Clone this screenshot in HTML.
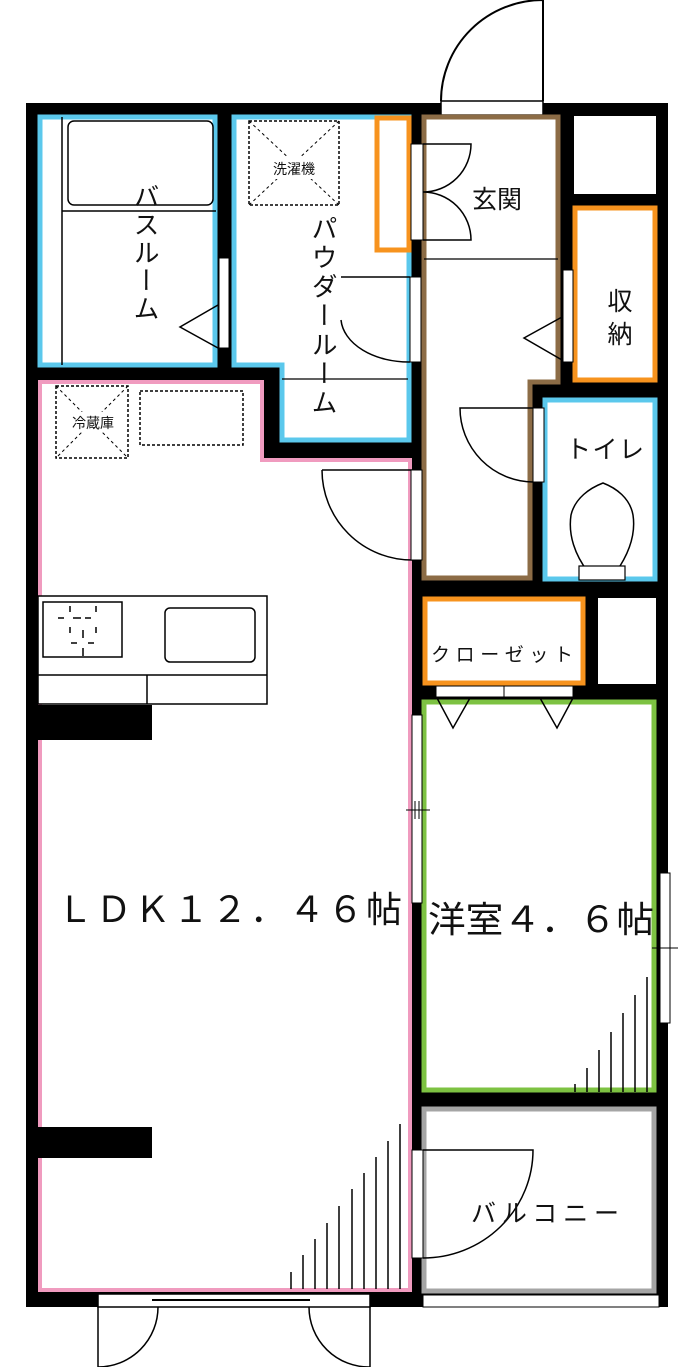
<!DOCTYPE html>
<html><head><meta charset="utf-8"><style>
html,body{margin:0;padding:0;background:#fff;}
body{position:relative;width:700px;height:1367px;overflow:hidden;}
svg{display:block;position:absolute;left:0;top:0;}
text{font-family:"Liberation Sans","Noto Sans CJK JP",sans-serif;fill:#111;}
.v{position:absolute;writing-mode:vertical-rl;font-family:"Noto Sans CJK JP",sans-serif;color:#111;line-height:1;white-space:nowrap;}
</style></head><body>
<svg width="700" height="1367" viewBox="0 0 700 1367" xmlns="http://www.w3.org/2000/svg">
<rect width="700" height="1367" fill="#fff"/>
<!-- outer walls -->
<rect x="26" y="103" width="642" height="13" fill="#000"/>
<rect x="26" y="103" width="13" height="1204" fill="#000"/>
<rect x="656" y="103" width="12" height="1204" fill="#000"/>
<rect x="26" y="1292" width="642" height="15" fill="#000"/>
<!-- top door -->
<rect x="441" y="101" width="102" height="14" fill="#fff" stroke="#000" stroke-width="1.5"/>
<path d="M441 101 A102 101 0 0 1 543 0 L543 101" fill="none" stroke="#000" stroke-width="2"/>
<!-- interior walls -->
<rect x="216" y="103" width="16" height="275" fill="#000"/>
<rect x="26" y="367" width="254" height="13" fill="#000"/>
<rect x="262" y="367" width="18" height="93" fill="#000"/>
<rect x="262" y="442" width="160" height="18" fill="#000"/>
<rect x="360" y="103" width="62" height="165" fill="#000"/>
<rect x="408" y="103" width="16" height="1204" fill="#000"/>
<rect x="558" y="103" width="16" height="290" fill="#000"/>
<rect x="528" y="380" width="16" height="218" fill="#000"/>
<rect x="528" y="382" width="140" height="16" fill="#000"/>
<rect x="560" y="193" width="108" height="14" fill="#000"/>
<rect x="408" y="580" width="260" height="18" fill="#000"/>
<rect x="585" y="580" width="13" height="130" fill="#000"/>
<rect x="408" y="684" width="260" height="16" fill="#000"/>
<rect x="595" y="684" width="73" height="28" fill="#000"/>
<rect x="408" y="1091" width="260" height="16" fill="#000"/>
<!-- room fills -->
<rect x="40" y="117" width="175" height="248" fill="#fff" stroke="#5bc8ec" stroke-width="5"/>
<path d="M234 117 H409 V440 H282 V365 H234 Z" fill="#fff" stroke="#5bc8ec" stroke-width="5"/>
<rect x="377" y="118" width="32" height="132" fill="#fff" stroke="#f7931e" stroke-width="5"/>
<path d="M424 117 H558 V382 H530 V578 H424 Z" fill="#fff" stroke="#8c6c46" stroke-width="5"/>
<rect x="574" y="116" width="82" height="78" fill="#fff"/>
<rect x="575" y="208" width="80" height="172" fill="#fff" stroke="#f7931e" stroke-width="5"/>
<rect x="545" y="400" width="110" height="179" fill="#fff" stroke="#5bc8ec" stroke-width="5"/>
<rect x="425" y="599" width="158" height="84" fill="#fff" stroke="#f7931e" stroke-width="5"/>
<rect x="599" y="599" width="57" height="85" fill="#fff"/>
<rect x="424" y="702" width="230" height="388" fill="#fff" stroke="#7dc242" stroke-width="5"/>
<rect x="424" y="1109" width="230" height="182" fill="#fff" stroke="#a5a5a5" stroke-width="5"/>
<path d="M40 382 H262 V460 H410 V1290 H40 Z" fill="#fff" stroke="#f09bbf" stroke-width="4"/>
<!-- bath details -->
<line x1="62" y1="117" x2="62" y2="365" stroke="#000" stroke-width="1.5"/>
<rect x="68" y="121" width="145" height="84" rx="6" fill="none" stroke="#000" stroke-width="1.5"/>
<line x1="62" y1="211" x2="216" y2="211" stroke="#000" stroke-width="1.5"/>
<rect x="219" y="258" width="10" height="90" fill="#fff" stroke="#000" stroke-width="1"/>
<path d="M218 305 L180 327 L218 348" fill="none" stroke="#000" stroke-width="1.5"/>
<!-- washer -->
<rect x="249" y="121" width="90" height="84" fill="none" stroke="#000" stroke-width="1.5" stroke-dasharray="3,2"/>
<path d="M249 121 L339 205 M339 121 L249 205" stroke="#000" stroke-width="1" stroke-dasharray="3,3"/>
<rect x="265" y="157" width="58" height="22" fill="#fff"/>
<text x="294" y="174" font-size="14" text-anchor="middle">洗濯機</text>
<!-- powder door -->
<line x1="341" y1="277" x2="410" y2="277" stroke="#000" stroke-width="1.5"/>
<path d="M341 320 A68 45 0 0 0 410 362" fill="none" stroke="#000" stroke-width="1.5"/>
<rect x="410" y="277" width="11" height="85" fill="#fff" stroke="#000" stroke-width="1"/>
<line x1="282" y1="379" x2="408" y2="379" stroke="#000" stroke-width="1.2"/>
<!-- entrance -->
<rect x="411" y="144" width="12" height="96" fill="#fff" stroke="#000" stroke-width="1"/>
<path d="M423 144 H471 A48 48 0 0 1 423 192 A48 48 0 0 1 471 240 H423" fill="none" stroke="#000" stroke-width="1.5"/>
<line x1="424" y1="259" x2="558" y2="259" stroke="#000" stroke-width="1.2"/>
<rect x="563" y="270" width="10" height="92" fill="#fff" stroke="#000" stroke-width="1"/>
<path d="M562 317 L524 338 L562 360" fill="none" stroke="#000" stroke-width="1.5"/>
<rect x="533" y="408" width="11" height="74" fill="#fff" stroke="#000" stroke-width="1"/>
<path d="M533 408 H460 A74 74 0 0 0 533 482" fill="none" stroke="#000" stroke-width="1.5"/>
<!-- toilet -->
<path d="M588 572 C575 555 568 535 571 515 C575 498 590 488 603 483 C616 488 630 498 633 515 C636 535 628 555 616 572" fill="none" stroke="#000" stroke-width="1.5"/>
<rect x="579" y="566" width="46" height="14" fill="#fff" stroke="#000" stroke-width="1.2"/>
<!-- fridge -->
<rect x="56" y="386" width="72" height="72" fill="none" stroke="#000" stroke-width="1.5" stroke-dasharray="3,2"/>
<path d="M56 386 L128 458 M128 386 L56 458" stroke="#000" stroke-width="1" stroke-dasharray="3,3"/>
<rect x="63" y="412" width="60" height="20" fill="#fff"/>
<text x="93" y="428" font-size="14" text-anchor="middle">冷蔵庫</text>
<rect x="140" y="391" width="103" height="54" fill="none" stroke="#000" stroke-width="1.5" stroke-dasharray="3,2"/>
<!-- LDK door -->
<path d="M322 470 H412 M322 470 A90 90 0 0 0 412 560" fill="none" stroke="#000" stroke-width="1.5"/>
<rect x="411" y="470" width="11" height="90" fill="#fff" stroke="#000" stroke-width="1"/>
<!-- kitchen -->
<rect x="38" y="596" width="229" height="108" fill="#fff" stroke="#000" stroke-width="1.5"/>
<line x1="38" y1="675" x2="267" y2="675" stroke="#000" stroke-width="1.5"/>
<line x1="147" y1="675" x2="147" y2="704" stroke="#000" stroke-width="1.5"/>
<rect x="43" y="602" width="79" height="55" fill="none" stroke="#000" stroke-width="1.5"/>
<path d="M58 618 h6 M73 618 h8 M85 618 h6 M70 606 v6 M96 606 v6 M70 627 v6 M96 627 v6 M83 630 v8 M71 643 h6 M88 643 h6 M83 648 v8" stroke="#000" stroke-width="1.5"/>
<rect x="165" y="608" width="90" height="54" rx="5" fill="none" stroke="#000" stroke-width="1.5"/>
<rect x="38" y="705" width="114" height="35" fill="#000"/>
<rect x="38" y="1127" width="114" height="31" fill="#000"/>
<!-- closet doors -->
<rect x="436" y="686" width="68" height="11" fill="#fff" stroke="#000" stroke-width="1"/>
<rect x="504" y="686" width="69" height="11" fill="#fff" stroke="#000" stroke-width="1"/>
<path d="M437 698 L453 728 L470 698 M540 698 L557 728 L573 698" fill="none" stroke="#000" stroke-width="1.5"/>
<!-- LDK/western sliding window -->
<rect x="412" y="715" width="10" height="188" fill="#fff" stroke="#000" stroke-width="1"/>
<line x1="406" y1="810" x2="430" y2="810" stroke="#000" stroke-width="1"/>
<line x1="415" y1="801" x2="415" y2="819" stroke="#000" stroke-width="1"/>
<line x1="419" y1="801" x2="419" y2="819" stroke="#000" stroke-width="1"/>
<!-- western right window -->
<rect x="660" y="873" width="10" height="150" fill="#fff" stroke="#000" stroke-width="1"/>
<line x1="652" y1="948" x2="678" y2="948" stroke="#000" stroke-width="1"/>
<!-- western hatching -->
<g stroke="#000" stroke-width="1.5">
<line x1="575" y1="1084" x2="575" y2="1092"/><line x1="587" y1="1068" x2="587" y2="1092"/><line x1="599" y1="1050" x2="599" y2="1092"/><line x1="611" y1="1032" x2="611" y2="1092"/><line x1="623" y1="1013" x2="623" y2="1092"/><line x1="635" y1="995" x2="635" y2="1092"/><line x1="647" y1="977" x2="647" y2="1092"/>
</g>
<!-- LDK hatching -->
<g stroke="#000" stroke-width="1.5">
<line x1="291" y1="1272" x2="291" y2="1289"/><line x1="303" y1="1255" x2="303" y2="1289"/><line x1="315" y1="1239" x2="315" y2="1289"/><line x1="327" y1="1223" x2="327" y2="1289"/><line x1="339" y1="1206" x2="339" y2="1289"/><line x1="352" y1="1189" x2="352" y2="1289"/><line x1="364" y1="1173" x2="364" y2="1289"/><line x1="376" y1="1157" x2="376" y2="1289"/><line x1="388" y1="1141" x2="388" y2="1289"/><line x1="400" y1="1124" x2="400" y2="1289"/>
</g>
<!-- balcony door -->
<rect x="412" y="1150" width="11" height="108" fill="#fff" stroke="#000" stroke-width="1"/>
<path d="M423 1150 H533 A110 108 0 0 1 423 1258" fill="none" stroke="#000" stroke-width="1.5"/>
<rect x="423" y="1295" width="236" height="12" fill="#fff" stroke="#000" stroke-width="1"/>
<!-- bottom window / doors -->
<rect x="98" y="1294" width="272" height="13" fill="#fff" stroke="#000" stroke-width="1.5"/>
<line x1="152" y1="1300" x2="310" y2="1300" stroke="#000" stroke-width="2"/>
<path d="M98 1307 V1367 M158 1307 A60 60 0 0 1 98 1367 M370 1307 V1367 M309 1307 A60 60 0 0 0 370 1367" fill="none" stroke="#000" stroke-width="1.5"/>
<!-- labels -->
<text x="497" y="208" font-size="25" text-anchor="middle">玄関</text>
<text x="620" y="310" font-size="25" text-anchor="middle">収</text>
<text x="620" y="343" font-size="25" text-anchor="middle">納</text>
<text x="566" y="458" font-size="25" textLength="78" lengthAdjust="spacing">トイレ</text>
<text x="431" y="661" font-size="19" textLength="142" lengthAdjust="spacing">クローゼット</text>
<text x="57" y="922" font-size="36" textLength="345" lengthAdjust="spacing">ＬＤＫ１２．４６帖</text>
<text x="428" y="932" font-size="36" textLength="226" lengthAdjust="spacingAndGlyphs">洋室４．６帖</text>
<text x="471" y="1222" font-size="25" textLength="148" lengthAdjust="spacing">バルコニー</text>
</svg>
<div class="v" style="left:133px;top:183px;font-size:26px;letter-spacing:2px;">バスルーム</div>
<div class="v" style="left:311px;top:215px;font-size:26px;letter-spacing:3px;">パウダールーム</div>
</body></html>
